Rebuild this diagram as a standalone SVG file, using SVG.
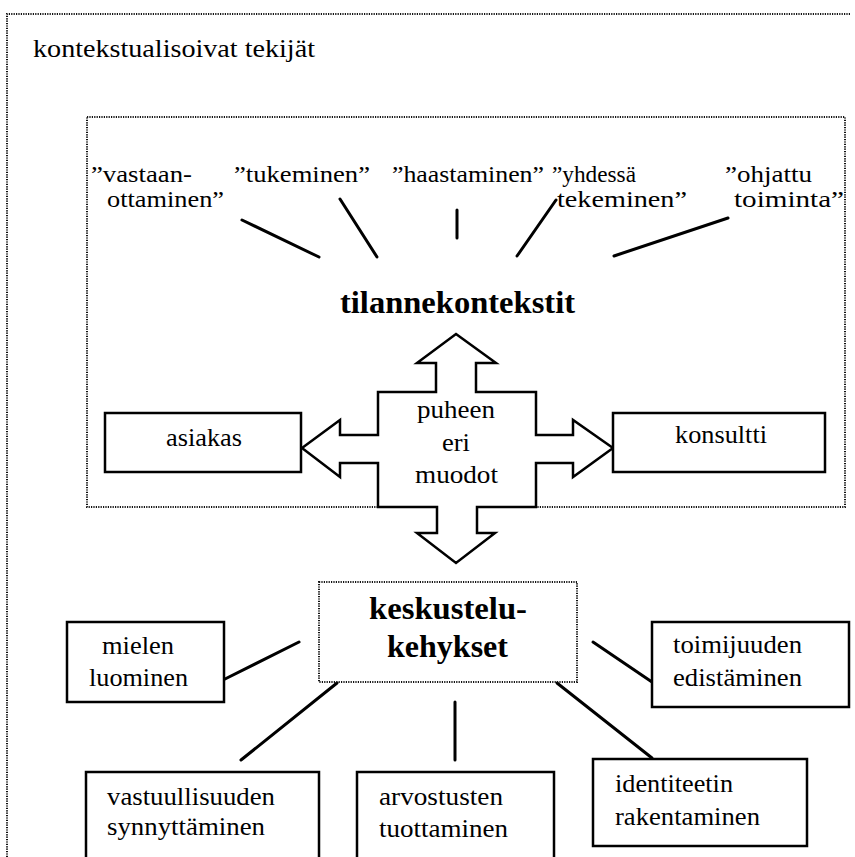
<svg xmlns="http://www.w3.org/2000/svg" width="855" height="857" viewBox="0 0 855 857">
<style>
text{font-family:"Liberation Serif","Times New Roman",serif;font-size:26px;fill:#000}
.s{font-size:23px}
.b{font-weight:bold;font-size:32px}
.dot{fill:none;stroke:#111;stroke-width:2;stroke-dasharray:1.2 1.2}
.box{fill:#fff;stroke:#000;stroke-width:2.5}
.ln{stroke:#000;stroke-width:3;fill:none;stroke-linecap:round}
</style>
<rect width="855" height="857" fill="#fff"/>
<g id="frame-outer">
<path class="dot" d="M7,857 V14 H851"/>
<text x="33" y="57" textLength="282" lengthAdjust="spacingAndGlyphs">kontekstualisoivat tekijät</text>
</g>
<g id="frame-inner">
<rect class="dot" x="87" y="117" width="758" height="390"/>
</g>
<g id="labels-top">
<text class="s" x="91" y="182" textLength="101" lengthAdjust="spacingAndGlyphs">”vastaan-</text>
<text class="s" x="107" y="207" textLength="117" lengthAdjust="spacingAndGlyphs">ottaminen”</text>
<text class="s" x="234" y="182" textLength="136" lengthAdjust="spacingAndGlyphs">”tukeminen”</text>
<text class="s" x="392" y="182" textLength="152" lengthAdjust="spacingAndGlyphs">”haastaminen”</text>
<text class="s" x="552" y="182" textLength="84" lengthAdjust="spacingAndGlyphs">”yhdessä</text>
<text class="s" x="557" y="207" textLength="130" lengthAdjust="spacingAndGlyphs">tekeminen”</text>
<text class="s" x="725" y="182" textLength="87" lengthAdjust="spacingAndGlyphs">”ohjattu</text>
<text class="s" x="734" y="207" textLength="110" lengthAdjust="spacingAndGlyphs">toiminta”</text>
</g>
<g id="tilannekontekstit">
<text class="b" x="340" y="313" textLength="235" lengthAdjust="spacingAndGlyphs">tilannekontekstit</text>
</g>
<g id="connectors">
<line class="ln" x1="242" y1="220" x2="319" y2="257"/>
<line class="ln" x1="340" y1="199" x2="377" y2="257"/>
<line class="ln" x1="457" y1="210" x2="457" y2="238"/>
<line class="ln" x1="556" y1="200" x2="517" y2="256"/>
<line class="ln" x1="728" y1="218" x2="614" y2="256"/>
<line class="ln" x1="299" y1="642" x2="223" y2="680"/>
<line class="ln" x1="593" y1="642" x2="652" y2="682"/>
<line class="ln" x1="337" y1="683" x2="241" y2="760"/>
<line class="ln" x1="455" y1="702" x2="455" y2="760"/>
<line class="ln" x1="557" y1="683" x2="652" y2="758"/>
</g>
<g id="puheen-eri-muodot">
<polygon class="box" points="456,334 496,363 476,363 476,392 536,392 536,435 573,435 573,420 613,448 573,477 573,463 536,463 536,507 477,507 477,533 495,533 456,563 417,533 437,533 437,507 378,507 378,463 340,463 340,477 302,448 340,420 340,435 378,435 378,392 436,392 436,363 417,363"/>
<text x="417" y="418" textLength="78" lengthAdjust="spacingAndGlyphs">puheen</text>
<text x="442" y="451" textLength="28" lengthAdjust="spacingAndGlyphs">eri</text>
<text x="415" y="483" textLength="83" lengthAdjust="spacingAndGlyphs">muodot</text>
</g>
<g id="asiakas">
<rect class="box" x="105" y="413" width="196" height="59"/>
<text x="166" y="446" textLength="76" lengthAdjust="spacingAndGlyphs">asiakas</text>
</g>
<g id="konsultti">
<rect class="box" x="613" y="413" width="212" height="59"/>
<text x="675" y="443" textLength="92" lengthAdjust="spacingAndGlyphs">konsultti</text>
</g>
<g id="keskustelukehykset">
<rect class="dot" x="319" y="582" width="258" height="100" fill="#fff"/>
<text class="b" x="369" y="619" textLength="158" lengthAdjust="spacingAndGlyphs">keskustelu-</text>
<text class="b" x="387" y="657" textLength="121" lengthAdjust="spacingAndGlyphs">kehykset</text>
</g>
<g id="mielen-luominen">
<rect class="box" x="67" y="622" width="157" height="80"/>
<text x="102" y="654" textLength="72" lengthAdjust="spacingAndGlyphs">mielen</text>
<text x="89" y="686" textLength="99" lengthAdjust="spacingAndGlyphs">luominen</text>
</g>
<g id="toimijuuden-edistaminen">
<rect class="box" x="652" y="622" width="197" height="85"/>
<text x="673" y="653" textLength="129" lengthAdjust="spacingAndGlyphs">toimijuuden</text>
<text x="673" y="686" textLength="129" lengthAdjust="spacingAndGlyphs">edistäminen</text>
</g>
<g id="vastuullisuuden-synnyttaminen">
<rect class="box" x="86" y="772" width="233" height="100"/>
<text x="107" y="805" textLength="168" lengthAdjust="spacingAndGlyphs">vastuullisuuden</text>
<text x="107" y="835" textLength="158" lengthAdjust="spacingAndGlyphs">synnyttäminen</text>
</g>
<g id="arvostusten-tuottaminen">
<rect class="box" x="357" y="772" width="197" height="100"/>
<text x="379" y="805" textLength="124" lengthAdjust="spacingAndGlyphs">arvostusten</text>
<text x="379" y="837" textLength="129" lengthAdjust="spacingAndGlyphs">tuottaminen</text>
</g>
<g id="identiteetin-rakentaminen">
<rect class="box" x="593" y="759" width="214" height="87"/>
<text x="615" y="792" textLength="118" lengthAdjust="spacingAndGlyphs">identiteetin</text>
<text x="615" y="825" textLength="145" lengthAdjust="spacingAndGlyphs">rakentaminen</text>
</g>
</svg>
